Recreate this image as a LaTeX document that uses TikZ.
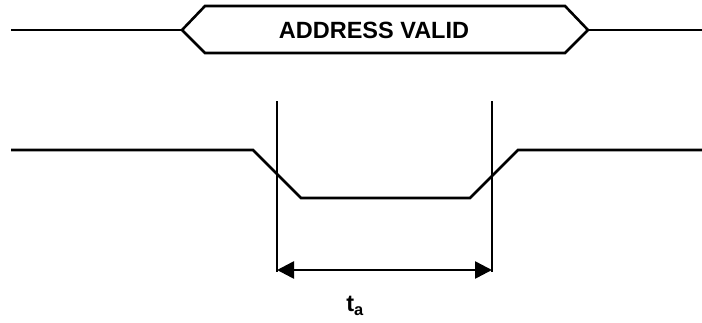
\documentclass[tikz,border=0pt]{standalone}
\usepackage{fontspec}
\setmainfont{Liberation Sans}
\usepackage{tikz}
\usetikzlibrary{arrows.meta}

\begin{document}
\begin{tikzpicture}[x=1pt,y=-1pt,line width=2.6pt,line join=miter]
\useasboundingbox (0,0) rectangle (702,322);

%address bus
\coordinate (bl) at (11,30);
\coordinate (hl) at (182,30);
\coordinate (hr) at (588,30);
\coordinate (br) at (702,30);
\draw (bl) -- (hl);
\draw (hl) -- (205,6) -- (565,6) -- (hr) -- (565,53) -- (205,53) -- cycle;
\draw (hr) -- (br);
\node[font=\fontsize{23.5}{26}\selectfont\bfseries] (addr) at (374,30) {ADDRESS VALID};

%strobe signal
\coordinate (sl) at (11,150);
\coordinate (sr) at (702,150);
\draw (sl) -- (253,150) -- (301,198) -- (470,198) -- (518,150) -- (sr);

%timing markers
\coordinate (mlt) at (277,101);
\coordinate (mlb) at (277,272);
\coordinate (mrt) at (492,101);
\coordinate (mrb) at (492,272);
\draw (mlt) -- (mlb);
\draw (mrt) -- (mrb);
\draw[{Triangle[length=17pt,width=17pt]}-{Triangle[length=17pt,width=17pt]}] (277,270) -- (492,270);

\node[font=\fontsize{23.5}{26}\selectfont\bfseries] (ta) at (355,306) {t\textsubscript{a}};

\end{tikzpicture}
\end{document}
